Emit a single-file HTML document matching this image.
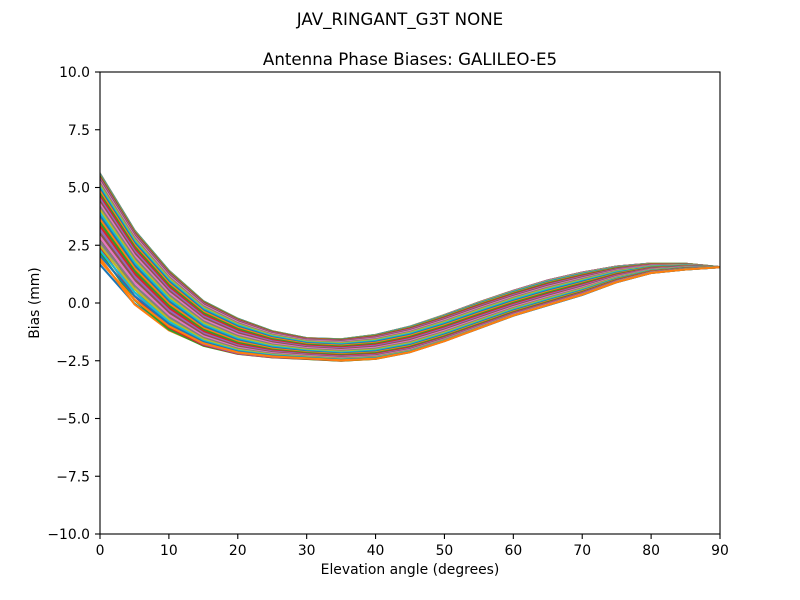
<!DOCTYPE html>
<html>
<head>
<meta charset="utf-8">
<style>
html,body{margin:0;padding:0;background:#fff;}
svg{display:block;}
text{font-family:"DejaVu Sans","Liberation Sans",sans-serif;fill:#000;}
</style>
</head>
<body>
<svg id="chart" width="800" height="600" viewBox="0 0 800 600" xmlns="http://www.w3.org/2000/svg">
<rect x="0" y="0" width="800" height="600" fill="#fff"/>
<defs><clipPath id="cp"><rect x="100" y="72" width="620" height="462"/></clipPath></defs>
<g id="lines" clip-path="url(#cp)">
<polygon id="fallback" fill="#7f8fa0" points="100,173.6 134.4,230.2 168.9,270.7 203.3,300.7 237.8,318 272.2,330.7 306.7,337.7 341.1,338.8 375.6,334.2 410,326.1 444.4,314.6 478.9,301.8 513.3,290.3 547.8,279.9 582.2,272.3 616.7,266 651.1,263.3 685.6,263.7 720,267.2 720,267.2 685.6,269.5 651.1,273 616.7,282.2 582.2,294.9 547.8,305.3 513.3,315.7 478.9,328.4 444.4,341.1 410,352.7 375.6,359.6 341.1,361.9 306.7,359.6 272.2,357.3 237.8,353.8 203.3,345.7 168.9,330.7 134.4,306.5 100,267.2"/>
</g>
<rect x="100" y="72" width="620" height="462" fill="none" stroke="#000" stroke-width="1.1"/>
<g stroke="#000" stroke-width="1.1">
<line x1="95" y1="72" x2="100" y2="72"/>
<line x1="95" y1="129.75" x2="100" y2="129.75"/>
<line x1="95" y1="187.5" x2="100" y2="187.5"/>
<line x1="95" y1="245.25" x2="100" y2="245.25"/>
<line x1="95" y1="303" x2="100" y2="303"/>
<line x1="95" y1="360.75" x2="100" y2="360.75"/>
<line x1="95" y1="418.5" x2="100" y2="418.5"/>
<line x1="95" y1="476.25" x2="100" y2="476.25"/>
<line x1="95" y1="534" x2="100" y2="534"/>
<line x1="100" y1="534" x2="100" y2="539"/>
<line x1="168.89" y1="534" x2="168.89" y2="539"/>
<line x1="237.78" y1="534" x2="237.78" y2="539"/>
<line x1="306.67" y1="534" x2="306.67" y2="539"/>
<line x1="375.56" y1="534" x2="375.56" y2="539"/>
<line x1="444.44" y1="534" x2="444.44" y2="539"/>
<line x1="513.33" y1="534" x2="513.33" y2="539"/>
<line x1="582.22" y1="534" x2="582.22" y2="539"/>
<line x1="651.11" y1="534" x2="651.11" y2="539"/>
<line x1="720" y1="534" x2="720" y2="539"/>
</g>
<g font-size="13.9" text-anchor="end">
<text x="90" y="77">10.0</text>
<text x="90" y="134.75">7.5</text>
<text x="90" y="192.5">5.0</text>
<text x="90" y="250.25">2.5</text>
<text x="90" y="308">0.0</text>
<text x="90" y="365.75">−2.5</text>
<text x="90" y="423.5">−5.0</text>
<text x="90" y="481.25">−7.5</text>
<text x="90" y="539">−10.0</text>
</g>
<g font-size="13.9" text-anchor="middle">
<text x="100" y="555">0</text>
<text x="168.89" y="555">10</text>
<text x="237.78" y="555">20</text>
<text x="306.67" y="555">30</text>
<text x="375.56" y="555">40</text>
<text x="444.44" y="555">50</text>
<text x="513.33" y="555">60</text>
<text x="582.22" y="555">70</text>
<text x="651.11" y="555">80</text>
<text x="720" y="555">90</text>
</g>
<text x="410" y="574" font-size="13.9" text-anchor="middle">Elevation angle (degrees)</text>
<text x="39" y="303" font-size="13.9" text-anchor="middle" transform="rotate(-90 39 303)">Bias (mm)</text>
<text x="400" y="25" font-size="16.67" text-anchor="middle">JAV_RINGANT_G3T NONE</text>
<text x="410" y="65" font-size="16.67" text-anchor="middle">Antenna Phase Biases: GALILEO-E5</text>
</svg>
<script>
(function(){
var E=[0,5,10,15,20,25,30,35,40,45,50,55,60,65,70,75,80,85,90];
var U=[5.6,3.15,1.4,0.08,-0.68,-1.22,-1.52,-1.57,-1.38,-1.02,-0.52,0.03,0.53,0.98,1.32,1.58,1.71,1.7,1.55];
var L=[1.55,-0.15,-1.2,-1.85,-2.2,-2.35,-2.42,-2.5,-2.42,-2.13,-1.65,-1.1,-0.55,-0.1,0.35,0.9,1.3,1.45,1.55];
var C=["#1f77b4","#ff7f0e","#2ca02c","#d62728","#9467bd","#8c564b","#e377c2","#7f7f7f","#bcbd22","#17becf"];
function ss(a,b,x){var t=(x-a)/(b-a);t=t<0?0:(t>1?1:t);return t*t*(3-2*t);}
var g=document.getElementById("lines");
var fb=document.getElementById("fallback");
if(fb)fb.parentNode.removeChild(fb);
var ns="http://www.w3.org/2000/svg";
for(var i=0;i<72;i++){
  var az=(i*5+1.25)*Math.PI/180;
  var pts=[];
  for(var k=0;k<E.length;k++){
    var e=E[k];
    var phi=(12*Math.sin(e*Math.PI/45))*Math.PI/180;
    var p=0.4+0.45*ss(0,25,e);
    var base=(1-Math.cos(az-phi))/2;
    base=base+0.03*Math.sin(az)*base*(1-base)*4;
    var s=Math.pow(Math.max(0,Math.min(1,base)),p);
    var v=L[k]+(U[k]-L[k])*s;
    var x=100+e*620/90;
    var y=303-v*23.1;
    pts.push(x.toFixed(2)+","+y.toFixed(2));
  }
  var pl=document.createElementNS(ns,"polyline");
  pl.setAttribute("points",pts.join(" "));
  pl.setAttribute("fill","none");
  pl.setAttribute("stroke",C[i%10]);
  pl.setAttribute("stroke-width","2.08");
  pl.setAttribute("stroke-linejoin","round");
  pl.setAttribute("stroke-linecap","square");
  g.appendChild(pl);
}
})();
</script>
</body>
</html>
